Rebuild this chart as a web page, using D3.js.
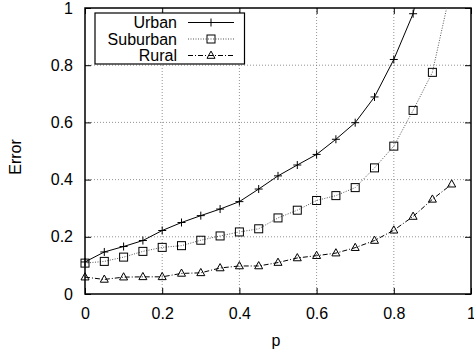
<!DOCTYPE html>
<html>
<head>
<meta charset="utf-8">
<script src="https://cdn.jsdelivr.net/npm/d3@7"></script>
<style>
  body { margin: 0; background: #fff; }
  text { font-family: "Liberation Sans", Arial, sans-serif; fill: #000; }
</style>
</head>
<body>
<div class="graph"></div>
<script>
// values
const pValues = [0, 0.05, 0.1, 0.15, 0.2, 0.25, 0.3, 0.35, 0.4, 0.45, 0.5, 0.55, 0.6, 0.65, 0.7, 0.75, 0.8, 0.85, 0.9, 0.95];
const urban = [0.112, 0.147, 0.166, 0.187, 0.222, 0.25, 0.274, 0.297, 0.323, 0.367, 0.413, 0.451, 0.488, 0.541, 0.599, 0.689, 0.82, 0.98, 1.3];
const suburban = [0.108, 0.114, 0.129, 0.149, 0.163, 0.169, 0.188, 0.203, 0.217, 0.228, 0.266, 0.293, 0.327, 0.344, 0.372, 0.441, 0.517, 0.642, 0.775, 1.08];
const rural = [0.059, 0.051, 0.059, 0.06, 0.06, 0.072, 0.074, 0.091, 0.098, 0.098, 0.11, 0.126, 0.134, 0.143, 0.162, 0.187, 0.223, 0.271, 0.331, 0.384];
const xTicks = [0, 0.2, 0.4, 0.6, 0.8, 1];
const yTicks = [0, 0.2, 0.4, 0.6, 0.8, 1];
const seriesNames = ['Urban', 'Suburban', 'Rural'];

const W = 474, H = 354;
const m = { left: 85, right: 3, top: 8, bottom: 60 };

const svg = d3.select('.graph').append('svg')
  .attr('width', W).attr('height', H);

const x = d3.scaleLinear().domain([0, 1]).range([m.left, W - m.right]);
const y = d3.scaleLinear().domain([0, 1]).range([H - m.bottom, m.top]);

svg.append('clipPath').attr('id', 'clip')
  .append('rect')
  .attr('x', x(0)).attr('y', y(1))
  .attr('width', x(1) - x(0)).attr('height', y(0) - y(1));

// grid (dotted)
const grid = svg.append('g').attr('stroke', '#777').attr('stroke-width', 0.8).attr('stroke-dasharray', '1,2');
grid.selectAll('.gx').data(xTicks.slice(1, -1)).enter().append('line')
  .attr('x1', d => x(d)).attr('x2', d => x(d)).attr('y1', y(0)).attr('y2', y(1));
grid.selectAll('.gy').data(yTicks.slice(1, -1)).enter().append('line')
  .attr('y1', d => y(d)).attr('y2', d => y(d)).attr('x1', x(0)).attr('x2', x(1));

// axes, ticks drawn inward (gnuplot style)
const fmt = d => d === 0 || d === 1 ? String(d) : d3.format('.1f')(d);
const axB = svg.append('g').attr('transform', `translate(0,${y(0)})`)
  .call(d3.axisBottom(x).tickValues(xTicks).tickFormat(fmt).tickSize(-6).tickPadding(14));
const axL = svg.append('g').attr('transform', `translate(${x(0)},0)`)
  .call(d3.axisLeft(y).tickValues(yTicks).tickFormat(fmt).tickSize(-6).tickPadding(12));
const axT = svg.append('g').attr('transform', `translate(0,${y(1)})`)
  .call(d3.axisTop(x).tickValues(xTicks).tickFormat('').tickSize(-6));
const axR = svg.append('g').attr('transform', `translate(${x(1)},0)`)
  .call(d3.axisRight(y).tickValues(yTicks).tickFormat('').tickSize(-6));
[axB, axL, axT, axR].forEach(a => {
  a.select('.domain').remove();
  a.selectAll('line').attr('stroke', '#000').attr('stroke-width', 1);
  a.selectAll('text').style('font-size', '16px').style('font-family', '"Liberation Sans", Arial, sans-serif');
});

svg.append('rect')
  .attr('x', x(0)).attr('y', y(1))
  .attr('width', x(1) - x(0)).attr('height', y(0) - y(1))
  .attr('fill', 'none').attr('stroke', '#000').attr('stroke-width', 1.5);

// axis titles
svg.append('text').attr('x', (x(0) + x(1)) / 2 - 2).attr('y', 346)
  .attr('text-anchor', 'middle').style('font-size', '16px').text('p');
svg.append('text').attr('transform', `translate(21,${(y(0) + y(1)) / 2 + 6}) rotate(-90)`)
  .attr('text-anchor', 'middle').style('font-size', '16px').text('Error');

// markers
const plus = (g, s) => g.append('path').attr('d', `M${-s},0H${s}M0,${-s}V${s}`);
const square = (g, s) => g.append('rect').attr('x', -s).attr('y', -s).attr('width', 2 * s).attr('height', 2 * s);
const tri = (g, s) => g.append('path').attr('d', `M0,${-s * 1.1}L${s},${s * 0.7}L${-s},${s * 0.7}Z`);

const series = [
  { name: seriesNames[0], values: urban, dash: null, color: '#000', mark: plus },
  { name: seriesNames[1], values: suburban, dash: '1,1.5', color: '#555', mark: square },
  { name: seriesNames[2], values: rural, dash: '5,2,1,2', color: '#000', mark: tri }
];

const line = d3.line().x(d => x(d[0])).y(d => y(d[1]));
const plot = svg.append('g').attr('clip-path', 'url(#clip)');

series.forEach(s => {
  const pts = s.values.map((v, i) => [pValues[i], v]);
  plot.append('path').datum(pts)
    .attr('d', line)
    .attr('fill', 'none').attr('stroke', s.color).attr('stroke-width', 1)
    .attr('stroke-dasharray', s.dash);
  pts.filter(d => d[1] <= 1).forEach(d => {
    const g = svg.append('g').attr('transform', `translate(${x(d[0])},${y(d[1])})`)
      .attr('fill', 'none').attr('stroke', '#000').attr('stroke-width', 1);
    s.mark(g, 4);
  });
});

// legend
const lg = svg.append('g');
lg.append('rect').attr('x', 95).attr('y', 13).attr('width', 149.5).attr('height', 51)
  .attr('fill', '#fff').attr('stroke', '#000').attr('stroke-width', 1.2);
series.forEach((s, i) => {
  const cy = 22.5 + i * 16.5;
  lg.append('text').attr('x', 177).attr('y', cy + 5.5).attr('text-anchor', 'end')
    .style('font-size', '16px').text(s.name);
  lg.append('line').attr('x1', 188).attr('x2', 234).attr('y1', cy).attr('y2', cy)
    .attr('stroke', s.color).attr('stroke-width', 1).attr('stroke-dasharray', s.dash);
  const g = lg.append('g').attr('transform', `translate(211,${cy})`)
    .attr('fill', 'none').attr('stroke', '#000').attr('stroke-width', 1);
  s.mark(g, 4);
});
</script>
</body>
</html>
